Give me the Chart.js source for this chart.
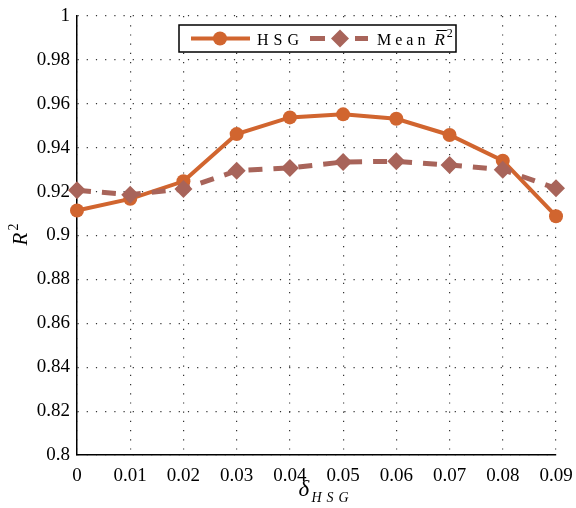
<!DOCTYPE html>
<html>
<head>
<meta charset="utf-8">
<script src="https://cdn.jsdelivr.net/npm/chart.js@4.4.1/dist/chart.umd.min.js"></script>
<style>
  html, body { margin: 0; padding: 0; background: #fff; }
  #wrap { width: 576px; height: 508px; }
</style>
</head>
<body>
<div id="wrap"><canvas id="r2Chart" width="576" height="508"></canvas></div>
<script>
// delta values along the x axis
var deltaLabels = ['0', '0.01', '0.02', '0.03', '0.04', '0.05', '0.06', '0.07', '0.08', '0.09'];
// R^2 for the HSG model and the mean R^2
var hsgValues = [0.9114, 0.9167, 0.9247, 0.9462, 0.9538, 0.9552, 0.9532, 0.9458, 0.9341, 0.9088];
var meanValues = [0.9206, 0.9186, 0.9212, 0.9295, 0.9308, 0.9335, 0.9338, 0.9321, 0.9300, 0.9215];
var yTickValues = [0.8, 0.82, 0.84, 0.86, 0.88, 0.9, 0.92, 0.94, 0.96, 0.98, 1];

var seriesNames = ['HSG', 'Mean'];
var hsgColor = '#d1652f';
var meanColor = '#a8645a';
var serif = '"Liberation Serif", "DejaVu Serif", serif';

// draw text one character at a time with extra spacing, returns end x
function spacedText(ctx, text, x, y, gap) {
    for (var i = 0; i < text.length; i++) {
        ctx.fillText(text[i], x, y);
        x += ctx.measureText(text[i]).width + (i < text.length - 1 ? gap : 0);
    }
    return x;
}

var extrasPlugin = {
    id: 'extras',
    afterDraw: function(chart) {
        var ctx = chart.ctx;
        var area = chart.chartArea;
        ctx.save();
        ctx.fillStyle = '#000';
        ctx.textBaseline = 'alphabetic';
        ctx.textAlign = 'left';

        // x axis title: delta with subscript HSG
        var cx = (area.left + area.right) / 2;
        ctx.font = 'italic 23px ' + serif;
        ctx.fillText('\u03b4', cx - 18, 496);
        ctx.font = 'italic 14px ' + serif;
        spacedText(ctx, 'HSG', cx - 5, 502, 5);

        // y axis title: R^2 rotated
        ctx.save();
        ctx.translate(27, (area.top + area.bottom) / 2);
        ctx.rotate(-Math.PI / 2);
        ctx.font = 'italic 21px ' + serif;
        ctx.fillText('R', -10, 0);
        ctx.font = '14px ' + serif;
        ctx.fillText('2', 5, -9);
        ctx.restore();

        // legend box inside the plot
        var bx = 179, by = 25, bw = 277, bh = 27;
        ctx.fillStyle = '#fff';
        ctx.fillRect(bx, by, bw, bh);
        ctx.strokeStyle = '#000';
        ctx.lineWidth = 1.5;
        ctx.strokeRect(bx, by, bw, bh);
        var my = by + bh / 2;

        var hsgSet = chart.data.datasets[0];
        ctx.strokeStyle = hsgSet.borderColor;
        ctx.lineWidth = hsgSet.borderWidth;
        ctx.beginPath();
        ctx.moveTo(191, my);
        ctx.lineTo(250, my);
        ctx.stroke();
        ctx.fillStyle = hsgSet.borderColor;
        ctx.beginPath();
        ctx.arc(220, my, hsgSet.pointRadius, 0, Math.PI * 2);
        ctx.fill();
        ctx.fillStyle = '#000';
        ctx.font = '16px ' + serif;
        spacedText(ctx, hsgSet.label, 257, my + 6, 5);

        var meanSet = chart.data.datasets[1];
        ctx.strokeStyle = meanSet.borderColor;
        ctx.lineWidth = meanSet.borderWidth;
        ctx.beginPath();
        ctx.moveTo(310, my); ctx.lineTo(325, my);
        ctx.moveTo(355, my); ctx.lineTo(368, my);
        ctx.stroke();
        ctx.fillStyle = meanSet.borderColor;
        var r = meanSet.pointRadius;
        ctx.beginPath();
        ctx.moveTo(340, my - r); ctx.lineTo(340 + r, my);
        ctx.lineTo(340, my + r); ctx.lineTo(340 - r, my);
        ctx.closePath();
        ctx.fill();
        ctx.fillStyle = '#000';
        ctx.font = '16px ' + serif;
        var ex = spacedText(ctx, meanSet.label, 377, my + 6, 4);
        ctx.font = 'italic 17px ' + serif;
        var rx = ex + 9;
        ctx.fillText('R', rx, my + 6);
        var rw = ctx.measureText('R').width;
        ctx.strokeStyle = '#000';
        ctx.lineWidth = 1;
        ctx.beginPath();
        ctx.moveTo(rx + 2, my - 8); ctx.lineTo(rx + rw + 2, my - 8);
        ctx.stroke();
        ctx.font = '12px ' + serif;
        ctx.fillText('2', rx + rw + 2, my - 2);
        ctx.restore();
    }
};

var ctx = document.getElementById('r2Chart').getContext('2d');
new Chart(ctx, {
    type: 'line',
    data: {
        labels: deltaLabels,
        datasets: [{
            label: seriesNames[0],
            data: hsgValues,
            borderColor: hsgColor,
            backgroundColor: hsgColor,
            borderWidth: 4,
            pointRadius: 7,
            pointHoverRadius: 7,
            pointBorderWidth: 0,
            pointBackgroundColor: hsgColor,
            tension: 0,
            order: 1
        }, {
            label: seriesNames[1],
            data: meanValues,
            borderColor: meanColor,
            backgroundColor: meanColor,
            borderWidth: 5,
            borderDash: [14, 11],
            pointStyle: 'rectRot',
            pointRadius: 9,
            pointHoverRadius: 9,
            pointBorderWidth: 0,
            pointBackgroundColor: meanColor,
            tension: 0,
            order: 0
        }]
    },
    options: {
        responsive: false,
        animation: false,
        devicePixelRatio: 1,
        layout: { padding: { left: 0, right: 20, top: 16, bottom: 0 } },
        plugins: {
            legend: { display: false },
            tooltip: { enabled: false }
        },
        scales: {
            x: {
                offset: false,
                grid: { color: '#333', lineWidth: 1.2, drawTicks: false },
                border: { display: true, color: '#000', width: 1.5, dash: [1.2, 8] },
                ticks: { color: '#000', padding: 10, maxRotation: 0, autoSkip: false, font: { family: serif, size: 19 } },
                afterFit: function(scale) {
                    scale.height = 53;
                    scale.paddingLeft = 0;
                    scale.paddingRight = 0;
                }
            },
            y: {
                min: 0.8,
                max: 1,
                afterBuildTicks: function(scale) {
                    scale.ticks = yTickValues.map(function(v) { return { value: v }; });
                },
                grid: { color: '#333', lineWidth: 1.2, drawTicks: false },
                border: { display: true, color: '#000', width: 1.5, dash: [1.2, 8] },
                ticks: {
                    color: '#000', padding: 7,
                    font: { family: serif, size: 19 },
                    callback: function(v) { return String(parseFloat(v.toFixed(2))); }
                },
                afterFit: function(scale) {
                    scale.width = 77;
                    scale.paddingTop = 0;
                    scale.paddingBottom = 0;
                }
            }
        }
    },
    plugins: [extrasPlugin]
});
</script>
</body>
</html>
